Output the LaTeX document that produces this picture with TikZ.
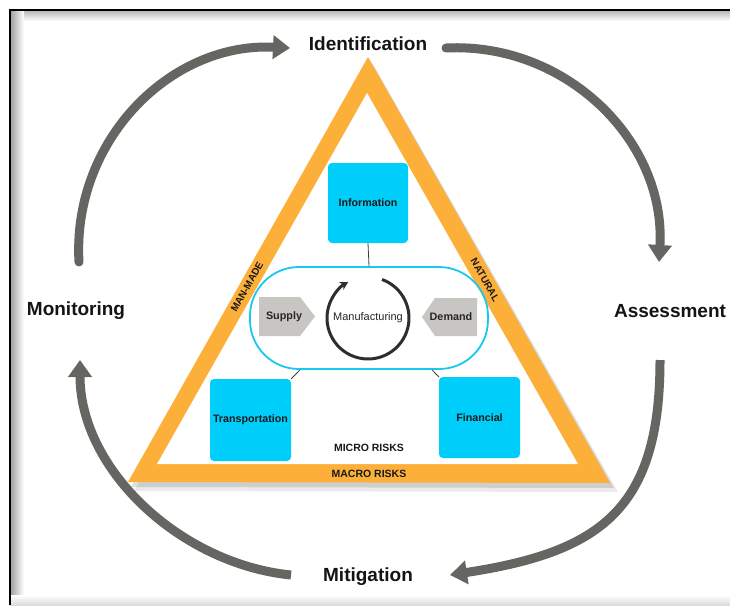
\documentclass[tikz,border=0pt]{standalone}
\usepackage{fontspec}
\setmainfont{Liberation Sans}
\usetikzlibrary{arrows.meta,calc}
\definecolor{arrowgray}{RGB}{102,101,97}
\definecolor{tri}{RGB}{252,176,58}
\definecolor{boxcyan}{RGB}{0,206,250}
\definecolor{pillcyan}{RGB}{25,200,240}
\definecolor{shapegray}{RGB}{200,198,194}
\begin{document}
\begin{tikzpicture}[x=1pt,y=-1pt,
  lab/.style={font=\fontsize{19}{22}\selectfont\bfseries, text=black!92, inner sep=0pt},
  cyc/.style={line width=9pt, draw=arrowgray, -{Triangle[length=17pt,width=23pt]}},
  riskbox/.style={fill=boxcyan, rounded corners=4pt, font=\fontsize{10.7}{12}\selectfont\bfseries, text=black!90, inner sep=0pt},
  sdtext/.style={font=\fontsize{10.8}{12}\selectfont\bfseries, text=black!85, inner sep=0pt},
  bandtext/.style={font=\fontsize{10}{11}\selectfont\bfseries, text=black!90, inner sep=0pt},
  link/.style={line width=0.8pt, draw=black!75}]
\useasboundingbox (0,0) rectangle (730,605);
\fill[white] (0,0) rectangle (730,605);
% frame
\shade[top color=black!30, bottom color=white] (10,10) rectangle (730,21);
\shade[left color=black!38, right color=white] (10,10) rectangle (24,605);
\shade[top color=white, bottom color=black!14] (10,595) rectangle (730,605);
\draw[line width=1.6pt] (10,605) -- (10,10) -- (730,10);

% cycle labels
\node[lab] (ident) at (368,44) {Identification};
\node[lab] (assess) at (670,311) {Assessment};
\node[lab] (mitig) at (368,577) {Mitigation};
\node[lab] (monit) at (76,311) {Monitoring};

% cycle arrows
\coordinate (tlS) at (79,262);  \coordinate (tlE) at (290,48);
\coordinate (trS) at (446,48);  \coordinate (trE) at (659,262);
\coordinate (brS) at (660,360); \coordinate (brE) at (450,575);
\coordinate (blS) at (291,575); \coordinate (blE) at (80,360);
\draw[cyc, line cap=round] (tlS) .. controls (72,141) and (170,42) .. (tlE);
\draw[cyc, line cap=round] (trS) .. controls (566,42) and (666,141) .. (trE);
\draw[cyc] (brS) .. controls (660,510) and (600,552) .. (brE);
\draw[cyc] (blS) .. controls (181,564) and (80,470) .. (blE);

% triangle with shadow
\fill[black, opacity=0.08] (373,64) -- (134,491) -- (618,492) -- cycle;
\fill[black, opacity=0.12] (370,60) -- (131,487) -- (614,488) -- cycle;
\fill[tri] (368,57) -- (128,482) -- (610,483) -- cycle;
\fill[white] (367,93) -- (157,464) -- (578,464) -- cycle;

\node[bandtext, rotate=60.5] (manmade) at (247,287) {MAN-MADE};
\node[bandtext, rotate=-60.4] (natural) at (485,280) {NATURAL};
\node[bandtext, font=\fontsize{10.5}{12}\selectfont\bfseries] (macro) at (369,473.5) {MACRO RISKS};
\node[bandtext, font=\fontsize{10.5}{12}\selectfont\bfseries] (micro) at (369,448) {MICRO RISKS};

% risk boxes
\node[riskbox, minimum width=80pt, minimum height=80pt] (info) at (368,203) {Information};
\node[riskbox, minimum width=81pt, minimum height=82pt] (trans) at (250.5,420) {Transportation};
\node[riskbox, minimum width=81pt, minimum height=81pt] (fin) at (479.5,417.5) {Financial};

% pill
\node[draw=pillcyan, line width=1.8pt, rounded corners=49pt, minimum width=238pt, minimum height=102pt] (pill) at (369,318) {};

\draw[link] (info.south) -- (pill.north);
\draw[link] ($(pill.south)+(-69,0)$) -- (trans.north east);
\draw[link] ($(pill.south)+(63,0)$) -- (fin.north west);

% supply / demand
\fill[shapegray] (259,297) -- (300,297) -- (315,316.5) -- (300,336) -- (259,336) -- cycle;
\fill[shapegray] (477,298) -- (435,298) -- (422,317) -- (435,336) -- (477,336) -- cycle;
\node[sdtext] (supply) at (284,317) {Supply};
\node[sdtext] (demand) at (451,317) {Demand};

% manufacturing
\node[font=\fontsize{11}{13}\selectfont, text=black!85, inner sep=0pt] (manu) at (368,318) {Manufacturing};
\draw[line width=3pt, draw=black!82, -{Stealth[length=8pt,width=9pt]}]
  (manu.center) ++(-70:41) arc[start angle=-70, end angle=241, radius=41];
\end{tikzpicture}
\end{document}
